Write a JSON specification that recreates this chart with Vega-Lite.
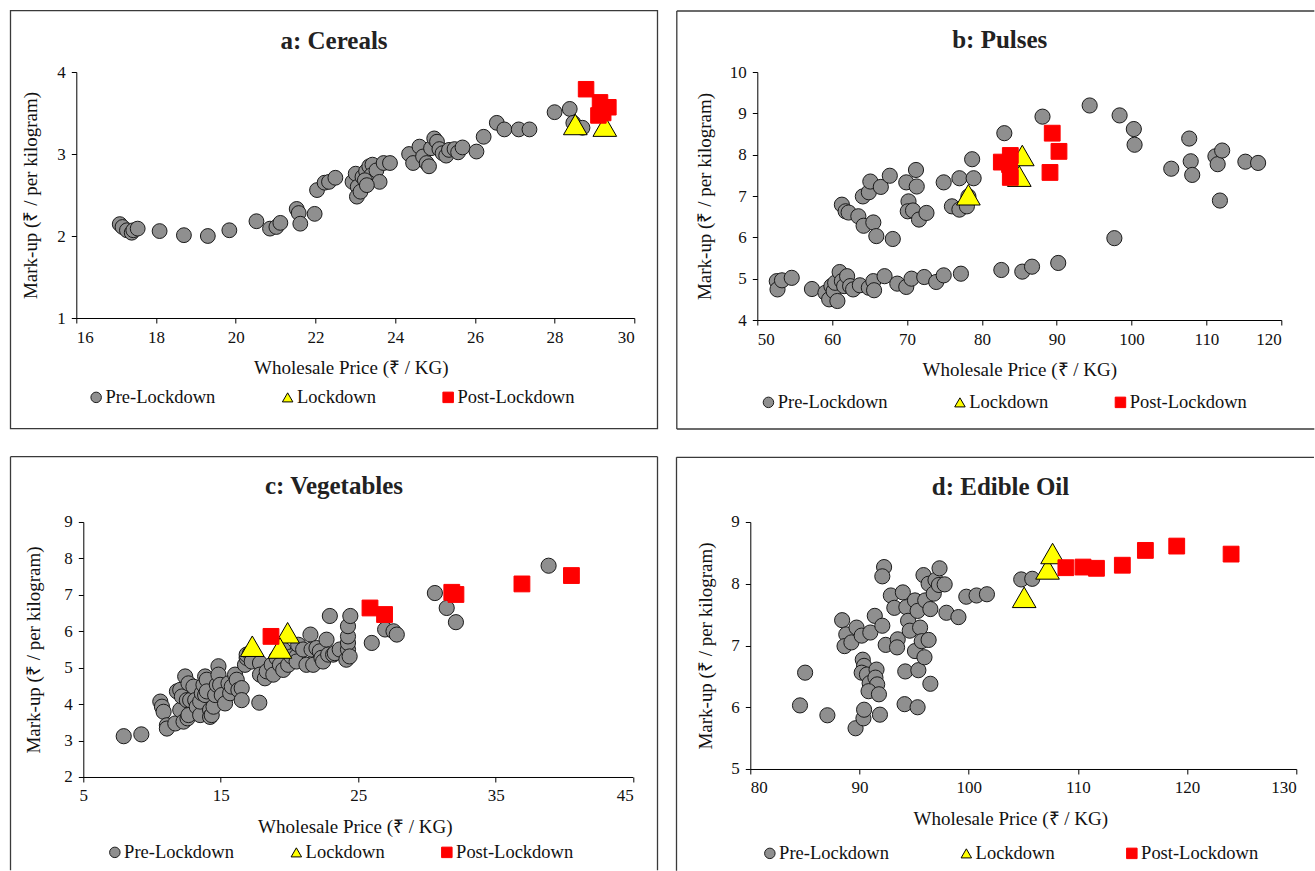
{
"$schema": "https://vega.github.io/schema/vega-lite/v6.json",
"background": "white",
"padding": {"left": 9.3, "top": 10, "right": 0, "bottom": 0},
"config": {
  "view": {"stroke": null},
  "axis": {"domainColor": "#000", "tickColor": "#000", "domainWidth": 1, "tickWidth": 1, "labelFont": "Liberation Serif", "labelFontSize": 17, "labelColor": "#111", "titleFont": "Liberation Serif", "titleFontSize": 19, "titleFontWeight": "normal", "titleColor": "#111", "grid": false, "tickSize": 5, "labelPadding": 6},
  "axisX": {"titlePadding": 13.5},
  "legend": {"labelFont": "Liberation Serif", "labelFontSize": 18.5, "labelColor": "#111", "symbolSize": 110, "symbolStrokeWidth": 1, "labelOffset": 0, "padding": 0}
},
"spacing": 26,
"vconcat": [
{"spacing": 17, "hconcat": [
{
  "width": 558, "height": 246,
  "layer": [
    {"data": {"values": [{}]}, "mark": {"type": "rect", "filled": false, "stroke": "#3a3a3a", "strokeWidth": 1.3, "clip": false},
     "encoding": {"x": {"datum": 14.349, "type": "quantitative", "scale": {"domain": [16, 30], "nice": false, "zero": false}, "axis": {"values": [16,18,20,22,24,26,28,30], "title": "Wholesale Price (₹ / KG)", "titleX": 274.5}}, "x2": {"datum": 30.582},
                  "y": {"datum": 4.748, "type": "quantitative", "scale": {"domain": [1, 4], "nice": false, "zero": false}, "axis": {"values": [1,2,3,4], "title": "Mark-up (₹ / per kilogram)", "titlePadding": 16.5}}, "y2": {"datum": -0.35}}},
    {"data": {"values": [{}]}, "mark": {"type": "text", "font": "Liberation Serif", "fontWeight": "bold", "fontSize": 25, "align": "center", "baseline": "alphabetic", "color": "#222", "clip": false},
     "encoding": {"x": {"datum": 22.466, "type": "quantitative", "scale": {"domain": [16, 30], "nice": false, "zero": false}, "axis": {"values": [16,18,20,22,24,26,28,30], "title": "Wholesale Price (₹ / KG)", "titleX": 274.5}},
                  "y": {"datum": 4.28, "type": "quantitative", "scale": {"domain": [1, 4], "nice": false, "zero": false}, "axis": {"values": [1,2,3,4], "title": "Mark-up (₹ / per kilogram)", "titlePadding": 16.5}},
                  "text": {"value": "a: Cereals"}}},
    {"data": {"values": [
      {"x":17.09,"y":2.145,"p":"Pre-Lockdown"},{"x":17.16,"y":2.11,"p":"Pre-Lockdown"},{"x":17.27,"y":2.07,"p":"Pre-Lockdown"},{"x":17.39,"y":2.04,"p":"Pre-Lockdown"},{"x":17.43,"y":2.07,"p":"Pre-Lockdown"},{"x":17.54,"y":2.09,"p":"Pre-Lockdown"},{"x":18.09,"y":2.06,"p":"Pre-Lockdown"},{"x":18.7,"y":2.01,"p":"Pre-Lockdown"},{"x":19.3,"y":2.0,"p":"Pre-Lockdown"},{"x":19.84,"y":2.07,"p":"Pre-Lockdown"},
      {"x":20.52,"y":2.18,"p":"Pre-Lockdown"},{"x":20.86,"y":2.09,"p":"Pre-Lockdown"},{"x":21.02,"y":2.11,"p":"Pre-Lockdown"},{"x":21.12,"y":2.16,"p":"Pre-Lockdown"},{"x":21.53,"y":2.33,"p":"Pre-Lockdown"},{"x":21.58,"y":2.28,"p":"Pre-Lockdown"},{"x":21.62,"y":2.15,"p":"Pre-Lockdown"},{"x":21.98,"y":2.27,"p":"Pre-Lockdown"},{"x":22.04,"y":2.56,"p":"Pre-Lockdown"},{"x":22.23,"y":2.65,"p":"Pre-Lockdown"},
      {"x":22.34,"y":2.66,"p":"Pre-Lockdown"},{"x":22.5,"y":2.71,"p":"Pre-Lockdown"},{"x":22.93,"y":2.66,"p":"Pre-Lockdown"},{"x":23.01,"y":2.76,"p":"Pre-Lockdown"},{"x":23.06,"y":2.6,"p":"Pre-Lockdown"},{"x":23.04,"y":2.48,"p":"Pre-Lockdown"},{"x":23.13,"y":2.54,"p":"Pre-Lockdown"},{"x":23.18,"y":2.72,"p":"Pre-Lockdown"},{"x":23.27,"y":2.79,"p":"Pre-Lockdown"},{"x":23.35,"y":2.85,"p":"Pre-Lockdown"},
      {"x":23.43,"y":2.87,"p":"Pre-Lockdown"},{"x":23.4,"y":2.74,"p":"Pre-Lockdown"},{"x":23.53,"y":2.8,"p":"Pre-Lockdown"},{"x":23.61,"y":2.66,"p":"Pre-Lockdown"},{"x":23.24,"y":2.68,"p":"Pre-Lockdown"},{"x":23.29,"y":2.62,"p":"Pre-Lockdown"},{"x":23.71,"y":2.89,"p":"Pre-Lockdown"},{"x":23.87,"y":2.89,"p":"Pre-Lockdown"},{"x":24.35,"y":3.0,"p":"Pre-Lockdown"},{"x":24.45,"y":2.89,"p":"Pre-Lockdown"},
      {"x":24.61,"y":3.09,"p":"Pre-Lockdown"},{"x":24.7,"y":2.97,"p":"Pre-Lockdown"},{"x":24.79,"y":2.89,"p":"Pre-Lockdown"},{"x":24.85,"y":2.85,"p":"Pre-Lockdown"},{"x":24.9,"y":3.07,"p":"Pre-Lockdown"},{"x":24.98,"y":3.19,"p":"Pre-Lockdown"},{"x":25.05,"y":3.15,"p":"Pre-Lockdown"},{"x":25.11,"y":3.06,"p":"Pre-Lockdown"},{"x":25.19,"y":3.01,"p":"Pre-Lockdown"},{"x":25.28,"y":2.98,"p":"Pre-Lockdown"},
      {"x":25.35,"y":3.05,"p":"Pre-Lockdown"},{"x":25.49,"y":3.06,"p":"Pre-Lockdown"},{"x":25.58,"y":3.02,"p":"Pre-Lockdown"},{"x":25.69,"y":3.08,"p":"Pre-Lockdown"},{"x":26.04,"y":3.03,"p":"Pre-Lockdown"},{"x":26.22,"y":3.21,"p":"Pre-Lockdown"},{"x":26.55,"y":3.38,"p":"Pre-Lockdown"},{"x":26.74,"y":3.3,"p":"Pre-Lockdown"},{"x":27.1,"y":3.3,"p":"Pre-Lockdown"},{"x":27.37,"y":3.3,"p":"Pre-Lockdown"},
      {"x":28.0,"y":3.51,"p":"Pre-Lockdown"},{"x":28.38,"y":3.55,"p":"Pre-Lockdown"},{"x":28.47,"y":3.38,"p":"Pre-Lockdown"},{"x":28.7,"y":3.32,"p":"Pre-Lockdown"},
      {"x":28.52,"y":3.36,"p":"Lockdown"},{"x":29.26,"y":3.34,"p":"Lockdown"},
      {"x":28.79,"y":3.79,"p":"Post-Lockdown"},{"x":29.14,"y":3.63,"p":"Post-Lockdown"},{"x":29.35,"y":3.57,"p":"Post-Lockdown"},{"x":29.1,"y":3.47,"p":"Post-Lockdown"},{"x":29.22,"y":3.5,"p":"Post-Lockdown"}
     ]},
     "mark": {"type": "point", "filled": true, "opacity": 1, "strokeWidth": 1},
     "encoding": {
       "x": {"field": "x", "type": "quantitative", "scale": {"domain": [16, 30], "nice": false, "zero": false}, "axis": {"values": [16,18,20,22,24,26,28,30], "title": "Wholesale Price (₹ / KG)", "titleX": 274.5}},
       "y": {"field": "y", "type": "quantitative", "scale": {"domain": [1, 4], "nice": false, "zero": false}, "axis": {"values": [1,2,3,4], "title": "Mark-up (₹ / per kilogram)", "titlePadding": 16.5}},
       "fill": {"field": "p", "type": "nominal", "scale": {"domain": ["Pre-Lockdown","Lockdown","Post-Lockdown"], "range": ["#8f8f8f","#ffff00","#ff0000"]}, "legend": {"title": null, "orient": "none", "direction": "horizontal", "legendX": 10.6, "legendY": 316, "columnPadding": 62.5}},
       "shape": {"field": "p", "type": "nominal", "scale": {"domain": ["Pre-Lockdown","Lockdown","Post-Lockdown"], "range": ["circle","triangle-up","square"]}, "legend": {"title": null, "orient": "none", "direction": "horizontal", "legendX": 10.6, "legendY": 316, "columnPadding": 62.5}},
       "stroke": {"field": "p", "type": "nominal", "scale": {"domain": ["Pre-Lockdown","Lockdown","Post-Lockdown"], "range": ["#1a1a1a","#000000","#ff0000"]}, "legend": {"title": null, "orient": "none", "direction": "horizontal", "legendX": 10.6, "legendY": 316, "columnPadding": 62.5}},
       "size": {"field": "p", "type": "nominal", "scale": {"type": "ordinal", "domain": ["Post-Lockdown","Lockdown","Pre-Lockdown"], "range": [240, 560, 220]}, "legend": null}
     }}
  ]
},
{
  "width": 524, "height": 248,
  "layer": [
    {"data": {"values": [{}]}, "mark": {"type": "rule", "stroke": "#3a3a3a", "strokeWidth": 1.3, "clip": false},
     "encoding": {"x": {"datum": 39.247, "type": "quantitative", "scale": {"domain": [50, 120], "nice": false, "zero": false}, "axis": {"values": [50,60,70,80,90,100,110,120], "title": "Wholesale Price (₹ / KG)"}}, "x2": {"datum": 124.41},
                  "y": {"datum": 11.476, "type": "quantitative", "scale": {"domain": [4, 10], "nice": false, "zero": false}, "axis": {"values": [4,5,6,7,8,9,10], "title": "Mark-up (₹ / per kilogram)", "titlePadding": 14.5}}}},
    {"data": {"values": [{}]}, "mark": {"type": "rule", "stroke": "#3a3a3a", "strokeWidth": 1.3, "clip": false},
     "encoding": {"x": {"datum": 39.247, "type": "quantitative", "scale": {"domain": [50, 120], "nice": false, "zero": false}, "axis": {"values": [50,60,70,80,90,100,110,120], "title": "Wholesale Price (₹ / KG)"}}, "x2": {"datum": 124.41},
                  "y": {"datum": 1.363, "type": "quantitative", "scale": {"domain": [4, 10], "nice": false, "zero": false}, "axis": {"values": [4,5,6,7,8,9,10], "title": "Mark-up (₹ / per kilogram)", "titlePadding": 14.5}}}},
    {"data": {"values": [{}]}, "mark": {"type": "rule", "stroke": "#3a3a3a", "strokeWidth": 1.3, "clip": false},
     "encoding": {"x": {"datum": 39.247, "type": "quantitative", "scale": {"domain": [50, 120], "nice": false, "zero": false}, "axis": {"values": [50,60,70,80,90,100,110,120], "title": "Wholesale Price (₹ / KG)"}},
                  "y": {"datum": 11.476, "type": "quantitative", "scale": {"domain": [4, 10], "nice": false, "zero": false}, "axis": {"values": [4,5,6,7,8,9,10], "title": "Mark-up (₹ / per kilogram)", "titlePadding": 14.5}}, "y2": {"datum": 1.363}}},
    {"data": {"values": [{}]}, "mark": {"type": "text", "font": "Liberation Serif", "fontWeight": "bold", "fontSize": 25, "align": "center", "baseline": "alphabetic", "color": "#222", "clip": false},
     "encoding": {"x": {"datum": 82.39, "type": "quantitative", "scale": {"domain": [50, 120], "nice": false, "zero": false}, "axis": {"values": [50,60,70,80,90,100,110,120], "title": "Wholesale Price (₹ / KG)"}},
                  "y": {"datum": 10.573, "type": "quantitative", "scale": {"domain": [4, 10], "nice": false, "zero": false}, "axis": {"values": [4,5,6,7,8,9,10], "title": "Mark-up (₹ / per kilogram)", "titlePadding": 14.5}},
                  "text": {"value": "b: Pulses"}}},
    {"data": {"values": [
      {"x":52.6,"y":4.94,"p":"Pre-Lockdown"},{"x":52.7,"y":4.74,"p":"Pre-Lockdown"},{"x":53.3,"y":4.96,"p":"Pre-Lockdown"},{"x":54.6,"y":5.02,"p":"Pre-Lockdown"},{"x":57.3,"y":4.75,"p":"Pre-Lockdown"},{"x":59.1,"y":4.66,"p":"Pre-Lockdown"},{"x":59.6,"y":4.5,"p":"Pre-Lockdown"},{"x":59.9,"y":4.82,"p":"Pre-Lockdown"},{"x":60.2,"y":4.7,"p":"Pre-Lockdown"},{"x":60.4,"y":4.9,"p":"Pre-Lockdown"},
      {"x":60.7,"y":4.46,"p":"Pre-Lockdown"},{"x":61.0,"y":5.16,"p":"Pre-Lockdown"},{"x":61.3,"y":4.94,"p":"Pre-Lockdown"},{"x":61.6,"y":4.82,"p":"Pre-Lockdown"},{"x":62.0,"y":5.06,"p":"Pre-Lockdown"},{"x":62.4,"y":4.82,"p":"Pre-Lockdown"},{"x":62.8,"y":4.74,"p":"Pre-Lockdown"},{"x":63.7,"y":4.84,"p":"Pre-Lockdown"},{"x":64.9,"y":4.78,"p":"Pre-Lockdown"},{"x":65.5,"y":4.94,"p":"Pre-Lockdown"},
      {"x":65.6,"y":4.72,"p":"Pre-Lockdown"},{"x":67.0,"y":5.06,"p":"Pre-Lockdown"},{"x":68.7,"y":4.88,"p":"Pre-Lockdown"},{"x":69.9,"y":4.8,"p":"Pre-Lockdown"},{"x":70.6,"y":5.0,"p":"Pre-Lockdown"},{"x":72.3,"y":5.04,"p":"Pre-Lockdown"},{"x":73.9,"y":4.92,"p":"Pre-Lockdown"},{"x":74.9,"y":5.08,"p":"Pre-Lockdown"},{"x":77.2,"y":5.12,"p":"Pre-Lockdown"},{"x":82.6,"y":5.21,"p":"Pre-Lockdown"},
      {"x":85.4,"y":5.17,"p":"Pre-Lockdown"},{"x":86.7,"y":5.29,"p":"Pre-Lockdown"},{"x":90.2,"y":5.38,"p":"Pre-Lockdown"},{"x":97.7,"y":5.98,"p":"Pre-Lockdown"},
      {"x":61.3,"y":6.79,"p":"Pre-Lockdown"},{"x":61.8,"y":6.63,"p":"Pre-Lockdown"},{"x":62.2,"y":6.6,"p":"Pre-Lockdown"},{"x":63.5,"y":6.51,"p":"Pre-Lockdown"},{"x":64.2,"y":6.28,"p":"Pre-Lockdown"},{"x":64.1,"y":6.99,"p":"Pre-Lockdown"},{"x":64.9,"y":7.09,"p":"Pre-Lockdown"},{"x":65.1,"y":7.35,"p":"Pre-Lockdown"},{"x":65.5,"y":6.36,"p":"Pre-Lockdown"},{"x":65.9,"y":6.03,"p":"Pre-Lockdown"},
      {"x":66.5,"y":7.22,"p":"Pre-Lockdown"},{"x":67.7,"y":7.49,"p":"Pre-Lockdown"},{"x":68.1,"y":5.96,"p":"Pre-Lockdown"},{"x":69.9,"y":7.33,"p":"Pre-Lockdown"},{"x":70.2,"y":6.87,"p":"Pre-Lockdown"},{"x":70.1,"y":6.63,"p":"Pre-Lockdown"},{"x":70.8,"y":6.65,"p":"Pre-Lockdown"},{"x":71.2,"y":7.63,"p":"Pre-Lockdown"},{"x":71.3,"y":7.23,"p":"Pre-Lockdown"},{"x":71.6,"y":6.43,"p":"Pre-Lockdown"},
      {"x":72.6,"y":6.59,"p":"Pre-Lockdown"},{"x":74.9,"y":7.33,"p":"Pre-Lockdown"},{"x":76.0,"y":6.75,"p":"Pre-Lockdown"},{"x":77.0,"y":7.43,"p":"Pre-Lockdown"},{"x":77.0,"y":6.67,"p":"Pre-Lockdown"},{"x":78.0,"y":6.75,"p":"Pre-Lockdown"},{"x":78.2,"y":6.99,"p":"Pre-Lockdown"},{"x":78.9,"y":7.43,"p":"Pre-Lockdown"},{"x":78.7,"y":7.89,"p":"Pre-Lockdown"},{"x":83.0,"y":8.52,"p":"Pre-Lockdown"},
      {"x":88.1,"y":8.92,"p":"Pre-Lockdown"},{"x":94.4,"y":9.19,"p":"Pre-Lockdown"},{"x":98.4,"y":8.95,"p":"Pre-Lockdown"},{"x":100.3,"y":8.62,"p":"Pre-Lockdown"},{"x":100.4,"y":8.24,"p":"Pre-Lockdown"},{"x":105.3,"y":7.66,"p":"Pre-Lockdown"},{"x":107.7,"y":8.39,"p":"Pre-Lockdown"},{"x":107.9,"y":7.84,"p":"Pre-Lockdown"},{"x":108.1,"y":7.51,"p":"Pre-Lockdown"},{"x":111.2,"y":7.96,"p":"Pre-Lockdown"},
      {"x":111.5,"y":7.77,"p":"Pre-Lockdown"},{"x":112.1,"y":8.1,"p":"Pre-Lockdown"},{"x":111.8,"y":6.89,"p":"Pre-Lockdown"},{"x":115.2,"y":7.83,"p":"Pre-Lockdown"},{"x":116.9,"y":7.8,"p":"Pre-Lockdown"},
      {"x":78.2,"y":7.03,"p":"Lockdown"},{"x":85.4,"y":7.98,"p":"Lockdown"},{"x":85.0,"y":7.48,"p":"Lockdown"},
      {"x":82.6,"y":7.82,"p":"Post-Lockdown"},{"x":83.8,"y":7.98,"p":"Post-Lockdown"},{"x":83.7,"y":7.76,"p":"Post-Lockdown"},{"x":83.8,"y":7.45,"p":"Post-Lockdown"},{"x":89.4,"y":8.52,"p":"Post-Lockdown"},{"x":90.3,"y":8.08,"p":"Post-Lockdown"},{"x":89.1,"y":7.57,"p":"Post-Lockdown"}
     ]},
     "mark": {"type": "point", "filled": true, "opacity": 1, "strokeWidth": 1},
     "encoding": {
       "x": {"field": "x", "type": "quantitative", "scale": {"domain": [50, 120], "nice": false, "zero": false}, "axis": {"values": [50,60,70,80,90,100,110,120], "title": "Wholesale Price (₹ / KG)"}},
       "y": {"field": "y", "type": "quantitative", "scale": {"domain": [4, 10], "nice": false, "zero": false}, "axis": {"values": [4,5,6,7,8,9,10], "title": "Mark-up (₹ / per kilogram)", "titlePadding": 14.5}},
       "fill": {"field": "p", "type": "nominal", "scale": {"domain": ["Pre-Lockdown","Lockdown","Post-Lockdown"], "range": ["#8f8f8f","#ffff00","#ff0000"]}, "legend": {"title": null, "orient": "none", "direction": "horizontal", "legendX": 1.9, "legendY": 321, "columnPadding": 62.5}},
       "shape": {"field": "p", "type": "nominal", "scale": {"domain": ["Pre-Lockdown","Lockdown","Post-Lockdown"], "range": ["circle","triangle-up","square"]}, "legend": {"title": null, "orient": "none", "direction": "horizontal", "legendX": 1.9, "legendY": 321, "columnPadding": 62.5}},
       "stroke": {"field": "p", "type": "nominal", "scale": {"domain": ["Pre-Lockdown","Lockdown","Post-Lockdown"], "range": ["#1a1a1a","#000000","#ff0000"]}, "legend": {"title": null, "orient": "none", "direction": "horizontal", "legendX": 1.9, "legendY": 321, "columnPadding": 62.5}},
       "size": {"field": "p", "type": "nominal", "scale": {"type": "ordinal", "domain": ["Post-Lockdown","Lockdown","Pre-Lockdown"], "range": [250, 560, 230]}, "legend": null}
     }}
  ]
}
],
"resolve": {"scale": {"fill": "independent", "shape": "independent", "stroke": "independent", "size": "independent"}, "legend": {"fill": "independent", "shape": "independent", "stroke": "independent"}}
},
{"spacing": 17, "hconcat": [
{
  "width": 557, "height": 255,
  "layer": [
    {"data": {"values": [{}]}, "mark": {"type": "rule", "stroke": "#3a3a3a", "strokeWidth": 1.3, "clip": false},
     "encoding": {"x": {"datum": -0.294, "type": "quantitative", "scale": {"domain": [4.491, 45], "nice": false, "zero": false}, "axis": {"values": [5,15,25,35,45], "title": "Wholesale Price (₹ / KG)", "domain": false}}, "x2": {"datum": 46.76},
                  "y": {"datum": 10.792, "type": "quantitative", "scale": {"domain": [2, 9], "nice": false, "zero": false}, "axis": {"values": [2,3,4,5,6,7,8,9], "title": "Mark-up (₹ / per kilogram)", "titlePadding": 20, "offset": -7}}}},
    {"data": {"values": [{}]}, "mark": {"type": "rule", "stroke": "#3a3a3a", "strokeWidth": 1.3, "clip": false},
     "encoding": {"x": {"datum": -0.294, "type": "quantitative", "scale": {"domain": [4.491, 45], "nice": false, "zero": false}, "axis": {"values": [5,15,25,35,45], "title": "Wholesale Price (₹ / KG)", "domain": false}},
                  "y": {"datum": 10.792, "type": "quantitative", "scale": {"domain": [2, 9], "nice": false, "zero": false}, "axis": {"values": [2,3,4,5,6,7,8,9], "title": "Mark-up (₹ / per kilogram)", "titlePadding": 20, "offset": -7}}, "y2": {"datum": -0.558}}},
    {"data": {"values": [{}]}, "mark": {"type": "rule", "stroke": "#3a3a3a", "strokeWidth": 1.3, "clip": false},
     "encoding": {"x": {"datum": 46.76, "type": "quantitative", "scale": {"domain": [4.491, 45], "nice": false, "zero": false}, "axis": {"values": [5,15,25,35,45], "title": "Wholesale Price (₹ / KG)", "domain": false}},
                  "y": {"datum": 10.792, "type": "quantitative", "scale": {"domain": [2, 9], "nice": false, "zero": false}, "axis": {"values": [2,3,4,5,6,7,8,9], "title": "Mark-up (₹ / per kilogram)", "titlePadding": 20, "offset": -7}}, "y2": {"datum": -0.558}}},
    {"data": {"values": [{}]}, "mark": {"type": "rule", "stroke": "#000000", "strokeWidth": 1, "clip": false},
     "encoding": {"x": {"datum": 5, "type": "quantitative", "scale": {"domain": [4.491, 45], "nice": false, "zero": false}, "axis": {"values": [5,15,25,35,45], "title": "Wholesale Price (₹ / KG)", "domain": false}}, "x2": {"datum": 45},
                  "y": {"datum": 1.9863, "type": "quantitative", "scale": {"domain": [2, 9], "nice": false, "zero": false}, "axis": {"values": [2,3,4,5,6,7,8,9], "title": "Mark-up (₹ / per kilogram)", "titlePadding": 20, "offset": -7}}}},
    {"data": {"values": [{}]}, "mark": {"type": "text", "font": "Liberation Serif", "fontWeight": "bold", "fontSize": 25, "align": "center", "baseline": "alphabetic", "color": "#222", "clip": false},
     "encoding": {"x": {"datum": 23.233, "type": "quantitative", "scale": {"domain": [4.491, 45], "nice": false, "zero": false}, "axis": {"values": [5,15,25,35,45], "title": "Wholesale Price (₹ / KG)", "domain": false}},
                  "y": {"datum": 9.769, "type": "quantitative", "scale": {"domain": [2, 9], "nice": false, "zero": false}, "axis": {"values": [2,3,4,5,6,7,8,9], "title": "Mark-up (₹ / per kilogram)", "titlePadding": 20, "offset": -7}},
                  "text": {"value": "c: Vegetables"}}},
    {"data": {"values": [
      {"x":7.94,"y":3.12,"p":"Pre-Lockdown"},{"x":9.22,"y":3.17,"p":"Pre-Lockdown"},{"x":10.6,"y":4.07,"p":"Pre-Lockdown"},{"x":10.72,"y":3.93,"p":"Pre-Lockdown"},{"x":10.84,"y":3.79,"p":"Pre-Lockdown"},{"x":11.08,"y":3.42,"p":"Pre-Lockdown"},{"x":11.08,"y":3.33,"p":"Pre-Lockdown"},{"x":11.69,"y":3.47,"p":"Pre-Lockdown"},{"x":11.81,"y":4.35,"p":"Pre-Lockdown"},{"x":12.05,"y":4.39,"p":"Pre-Lockdown"},
      {"x":12.05,"y":3.84,"p":"Pre-Lockdown"},{"x":12.17,"y":4.21,"p":"Pre-Lockdown"},{"x":12.29,"y":3.52,"p":"Pre-Lockdown"},{"x":12.41,"y":4.76,"p":"Pre-Lockdown"},{"x":12.53,"y":4.11,"p":"Pre-Lockdown"},{"x":12.58,"y":3.61,"p":"Pre-Lockdown"},{"x":12.65,"y":4.57,"p":"Pre-Lockdown"},{"x":12.65,"y":3.7,"p":"Pre-Lockdown"},{"x":12.77,"y":4.11,"p":"Pre-Lockdown"},{"x":13.01,"y":4.48,"p":"Pre-Lockdown"},
      {"x":13.14,"y":4.11,"p":"Pre-Lockdown"},{"x":13.25,"y":3.93,"p":"Pre-Lockdown"},{"x":13.5,"y":3.7,"p":"Pre-Lockdown"},{"x":13.5,"y":4.07,"p":"Pre-Lockdown"},{"x":13.62,"y":4.3,"p":"Pre-Lockdown"},{"x":13.74,"y":4.53,"p":"Pre-Lockdown"},{"x":13.86,"y":4.76,"p":"Pre-Lockdown"},{"x":13.86,"y":4.25,"p":"Pre-Lockdown"},{"x":13.98,"y":4.67,"p":"Pre-Lockdown"},{"x":13.98,"y":4.35,"p":"Pre-Lockdown"},
      {"x":14.22,"y":3.84,"p":"Pre-Lockdown"},{"x":14.22,"y":3.65,"p":"Pre-Lockdown"},{"x":14.34,"y":3.7,"p":"Pre-Lockdown"},{"x":14.47,"y":3.93,"p":"Pre-Lockdown"},{"x":14.59,"y":4.25,"p":"Pre-Lockdown"},{"x":14.71,"y":4.53,"p":"Pre-Lockdown"},{"x":14.83,"y":5.04,"p":"Pre-Lockdown"},{"x":14.83,"y":4.81,"p":"Pre-Lockdown"},{"x":14.95,"y":4.53,"p":"Pre-Lockdown"},{"x":15.07,"y":4.25,"p":"Pre-Lockdown"},
      {"x":15.31,"y":4.02,"p":"Pre-Lockdown"},{"x":15.56,"y":4.57,"p":"Pre-Lockdown"},{"x":15.68,"y":4.3,"p":"Pre-Lockdown"},{"x":15.8,"y":4.48,"p":"Pre-Lockdown"},{"x":16.04,"y":4.81,"p":"Pre-Lockdown"},{"x":16.16,"y":4.67,"p":"Pre-Lockdown"},{"x":16.28,"y":4.39,"p":"Pre-Lockdown"},{"x":16.52,"y":4.44,"p":"Pre-Lockdown"},{"x":16.52,"y":4.11,"p":"Pre-Lockdown"},{"x":16.76,"y":5.08,"p":"Pre-Lockdown"},
      {"x":16.88,"y":5.27,"p":"Pre-Lockdown"},{"x":16.88,"y":5.36,"p":"Pre-Lockdown"},{"x":17.13,"y":5.4,"p":"Pre-Lockdown"},{"x":17.25,"y":5.17,"p":"Pre-Lockdown"},{"x":17.8,"y":4.04,"p":"Pre-Lockdown"},{"x":17.85,"y":5.13,"p":"Pre-Lockdown"},{"x":17.85,"y":4.81,"p":"Pre-Lockdown"},{"x":18.21,"y":4.71,"p":"Pre-Lockdown"},{"x":18.34,"y":4.9,"p":"Pre-Lockdown"},{"x":18.7,"y":5.08,"p":"Pre-Lockdown"},
      {"x":18.82,"y":4.81,"p":"Pre-Lockdown"},{"x":19.06,"y":5.27,"p":"Pre-Lockdown"},{"x":19.3,"y":5.08,"p":"Pre-Lockdown"},{"x":19.54,"y":4.94,"p":"Pre-Lockdown"},{"x":19.54,"y":5.5,"p":"Pre-Lockdown"},{"x":19.9,"y":5.08,"p":"Pre-Lockdown"},{"x":20.14,"y":5.31,"p":"Pre-Lockdown"},{"x":20.51,"y":5.31,"p":"Pre-Lockdown"},{"x":20.63,"y":5.63,"p":"Pre-Lockdown"},{"x":20.51,"y":5.17,"p":"Pre-Lockdown"},
      {"x":20.99,"y":5.5,"p":"Pre-Lockdown"},{"x":21.23,"y":5.08,"p":"Pre-Lockdown"},{"x":21.52,"y":5.91,"p":"Pre-Lockdown"},{"x":21.6,"y":5.5,"p":"Pre-Lockdown"},{"x":21.72,"y":5.08,"p":"Pre-Lockdown"},{"x":21.96,"y":5.54,"p":"Pre-Lockdown"},{"x":22.2,"y":5.45,"p":"Pre-Lockdown"},{"x":22.32,"y":5.27,"p":"Pre-Lockdown"},{"x":22.44,"y":5.17,"p":"Pre-Lockdown"},{"x":22.69,"y":5.77,"p":"Pre-Lockdown"},
      {"x":22.81,"y":5.36,"p":"Pre-Lockdown"},{"x":22.93,"y":6.42,"p":"Pre-Lockdown"},{"x":23.17,"y":5.36,"p":"Pre-Lockdown"},{"x":23.29,"y":5.4,"p":"Pre-Lockdown"},{"x":23.65,"y":5.5,"p":"Pre-Lockdown"},{"x":24.13,"y":5.22,"p":"Pre-Lockdown"},{"x":24.25,"y":5.5,"p":"Pre-Lockdown"},{"x":24.25,"y":5.68,"p":"Pre-Lockdown"},{"x":24.25,"y":5.86,"p":"Pre-Lockdown"},{"x":24.25,"y":6.14,"p":"Pre-Lockdown"},
      {"x":24.37,"y":5.31,"p":"Pre-Lockdown"},{"x":24.42,"y":6.42,"p":"Pre-Lockdown"},{"x":25.98,"y":5.68,"p":"Pre-Lockdown"},{"x":26.95,"y":6.05,"p":"Pre-Lockdown"},{"x":27.56,"y":6.0,"p":"Pre-Lockdown"},{"x":27.8,"y":5.91,"p":"Pre-Lockdown"},{"x":30.57,"y":7.05,"p":"Pre-Lockdown"},{"x":31.43,"y":6.64,"p":"Pre-Lockdown"},{"x":32.1,"y":6.25,"p":"Pre-Lockdown"},{"x":38.84,"y":7.8,"p":"Pre-Lockdown"},
      {"x":17.29,"y":5.59,"p":"Lockdown"},{"x":19.86,"y":5.96,"p":"Lockdown"},{"x":19.3,"y":5.54,"p":"Lockdown"},
      {"x":18.65,"y":5.86,"p":"Post-Lockdown"},{"x":25.85,"y":6.64,"p":"Post-Lockdown"},{"x":26.91,"y":6.46,"p":"Post-Lockdown"},{"x":31.8,"y":7.07,"p":"Post-Lockdown"},{"x":32.1,"y":7.01,"p":"Post-Lockdown"},{"x":36.9,"y":7.3,"p":"Post-Lockdown"},{"x":40.5,"y":7.53,"p":"Post-Lockdown"}
     ]},
     "mark": {"type": "point", "filled": true, "opacity": 1, "strokeWidth": 1},
     "encoding": {
       "x": {"field": "x", "type": "quantitative", "scale": {"domain": [4.491, 45], "nice": false, "zero": false}, "axis": {"values": [5,15,25,35,45], "title": "Wholesale Price (₹ / KG)", "domain": false}},
       "y": {"field": "y", "type": "quantitative", "scale": {"domain": [2, 9], "nice": false, "zero": false}, "axis": {"values": [2,3,4,5,6,7,8,9], "title": "Mark-up (₹ / per kilogram)", "titlePadding": 20, "offset": -7}},
       "fill": {"field": "p", "type": "nominal", "scale": {"domain": ["Pre-Lockdown","Lockdown","Post-Lockdown"], "range": ["#8f8f8f","#ffff00","#ff0000"]}, "legend": {"title": null, "orient": "none", "direction": "horizontal", "legendX": 29.3, "legendY": 321, "columnPadding": 52.5}},
       "shape": {"field": "p", "type": "nominal", "scale": {"domain": ["Pre-Lockdown","Lockdown","Post-Lockdown"], "range": ["circle","triangle-up","square"]}, "legend": {"title": null, "orient": "none", "direction": "horizontal", "legendX": 29.3, "legendY": 321, "columnPadding": 52.5}},
       "stroke": {"field": "p", "type": "nominal", "scale": {"domain": ["Pre-Lockdown","Lockdown","Post-Lockdown"], "range": ["#1a1a1a","#000000","#ff0000"]}, "legend": {"title": null, "orient": "none", "direction": "horizontal", "legendX": 29.3, "legendY": 321, "columnPadding": 52.5}},
       "size": {"field": "p", "type": "nominal", "scale": {"type": "ordinal", "domain": ["Post-Lockdown","Lockdown","Pre-Lockdown"], "range": [250, 560, 230]}, "legend": null}
     }}
  ]
},
{
  "width": 546, "height": 247,
  "layer": [
    {"data": {"values": [{}]}, "mark": {"type": "rule", "stroke": "#3a3a3a", "strokeWidth": 1.3, "clip": false},
     "encoding": {"x": {"datum": 73.242, "type": "quantitative", "scale": {"domain": [80, 130], "nice": false, "zero": false}, "axis": {"values": [80,90,100,110,120,130], "title": "Wholesale Price (₹ / KG)", "titleX": 260}}, "x2": {"datum": 131.62},
                  "y": {"datum": 10.048, "type": "quantitative", "scale": {"domain": [5, 9], "nice": false, "zero": false}, "axis": {"values": [5,6,7,8,9], "title": "Mark-up (₹ / per kilogram)", "titlePadding": 15}}}},
    {"data": {"values": [{}]}, "mark": {"type": "rule", "stroke": "#3a3a3a", "strokeWidth": 1.3, "clip": false},
     "encoding": {"x": {"datum": 73.242, "type": "quantitative", "scale": {"domain": [80, 130], "nice": false, "zero": false}, "axis": {"values": [80,90,100,110,120,130], "title": "Wholesale Price (₹ / KG)", "titleX": 260}},
                  "y": {"datum": 10.048, "type": "quantitative", "scale": {"domain": [5, 9], "nice": false, "zero": false}, "axis": {"values": [5,6,7,8,9], "title": "Mark-up (₹ / per kilogram)", "titlePadding": 15}}, "y2": {"datum": 3.351}}},
    {"data": {"values": [{}]}, "mark": {"type": "text", "font": "Liberation Serif", "fontWeight": "bold", "fontSize": 25, "align": "center", "baseline": "alphabetic", "color": "#222", "clip": false},
     "encoding": {"x": {"datum": 102.91, "type": "quantitative", "scale": {"domain": [80, 130], "nice": false, "zero": false}, "axis": {"values": [80,90,100,110,120,130], "title": "Wholesale Price (₹ / KG)", "titleX": 260}},
                  "y": {"datum": 9.444, "type": "quantitative", "scale": {"domain": [5, 9], "nice": false, "zero": false}, "axis": {"values": [5,6,7,8,9], "title": "Mark-up (₹ / per kilogram)", "titlePadding": 15}},
                  "text": {"value": "d: Edible Oil"}}},
    {"data": {"values": [
      {"x":85.02,"y":6.56,"p":"Pre-Lockdown"},{"x":84.55,"y":6.03,"p":"Pre-Lockdown"},{"x":87.06,"y":5.87,"p":"Pre-Lockdown"},{"x":89.64,"y":5.66,"p":"Pre-Lockdown"},{"x":90.36,"y":5.82,"p":"Pre-Lockdown"},{"x":90.42,"y":5.96,"p":"Pre-Lockdown"},{"x":91.87,"y":5.88,"p":"Pre-Lockdown"},{"x":94.13,"y":6.05,"p":"Pre-Lockdown"},{"x":95.32,"y":6.0,"p":"Pre-Lockdown"},{"x":96.49,"y":6.38,"p":"Pre-Lockdown"},
      {"x":88.41,"y":7.41,"p":"Pre-Lockdown"},{"x":88.79,"y":7.18,"p":"Pre-Lockdown"},{"x":88.63,"y":6.99,"p":"Pre-Lockdown"},{"x":89.26,"y":7.05,"p":"Pre-Lockdown"},{"x":89.73,"y":7.29,"p":"Pre-Lockdown"},{"x":90.2,"y":7.16,"p":"Pre-Lockdown"},{"x":90.99,"y":7.21,"p":"Pre-Lockdown"},{"x":91.4,"y":7.48,"p":"Pre-Lockdown"},{"x":92.09,"y":7.32,"p":"Pre-Lockdown"},{"x":92.4,"y":7.01,"p":"Pre-Lockdown"},
      {"x":90.3,"y":6.77,"p":"Pre-Lockdown"},{"x":90.42,"y":6.67,"p":"Pre-Lockdown"},{"x":90.2,"y":6.56,"p":"Pre-Lockdown"},{"x":90.68,"y":6.53,"p":"Pre-Lockdown"},{"x":90.93,"y":6.39,"p":"Pre-Lockdown"},{"x":91.56,"y":6.61,"p":"Pre-Lockdown"},{"x":91.46,"y":6.48,"p":"Pre-Lockdown"},{"x":91.62,"y":6.37,"p":"Pre-Lockdown"},{"x":90.83,"y":6.26,"p":"Pre-Lockdown"},{"x":91.78,"y":6.21,"p":"Pre-Lockdown"},
      {"x":92.25,"y":8.27,"p":"Pre-Lockdown"},{"x":92.09,"y":8.12,"p":"Pre-Lockdown"},{"x":92.87,"y":7.81,"p":"Pre-Lockdown"},{"x":93.19,"y":7.61,"p":"Pre-Lockdown"},{"x":93.97,"y":7.86,"p":"Pre-Lockdown"},{"x":94.29,"y":7.62,"p":"Pre-Lockdown"},{"x":93.5,"y":7.1,"p":"Pre-Lockdown"},{"x":93.44,"y":6.97,"p":"Pre-Lockdown"},{"x":94.45,"y":7.4,"p":"Pre-Lockdown"},{"x":95.08,"y":7.73,"p":"Pre-Lockdown"},
      {"x":94.6,"y":7.24,"p":"Pre-Lockdown"},{"x":94.19,"y":6.58,"p":"Pre-Lockdown"},{"x":95.08,"y":6.91,"p":"Pre-Lockdown"},{"x":95.39,"y":6.6,"p":"Pre-Lockdown"},{"x":95.55,"y":7.29,"p":"Pre-Lockdown"},{"x":95.7,"y":7.07,"p":"Pre-Lockdown"},{"x":95.95,"y":6.81,"p":"Pre-Lockdown"},{"x":96.33,"y":7.09,"p":"Pre-Lockdown"},{"x":95.32,"y":7.56,"p":"Pre-Lockdown"},{"x":95.86,"y":8.14,"p":"Pre-Lockdown"},
      {"x":96.02,"y":7.73,"p":"Pre-Lockdown"},{"x":96.33,"y":8.0,"p":"Pre-Lockdown"},{"x":96.49,"y":7.59,"p":"Pre-Lockdown"},{"x":96.8,"y":7.84,"p":"Pre-Lockdown"},{"x":96.96,"y":8.06,"p":"Pre-Lockdown"},{"x":97.33,"y":8.25,"p":"Pre-Lockdown"},{"x":97.27,"y":7.98,"p":"Pre-Lockdown"},{"x":97.8,"y":7.99,"p":"Pre-Lockdown"},{"x":97.96,"y":7.53,"p":"Pre-Lockdown"},{"x":99.06,"y":7.46,"p":"Pre-Lockdown"},
      {"x":99.78,"y":7.79,"p":"Pre-Lockdown"},{"x":100.72,"y":7.81,"p":"Pre-Lockdown"},{"x":101.67,"y":7.83,"p":"Pre-Lockdown"},{"x":104.81,"y":8.07,"p":"Pre-Lockdown"},{"x":105.82,"y":8.08,"p":"Pre-Lockdown"},
      {"x":105.08,"y":7.78,"p":"Lockdown"},{"x":107.22,"y":8.24,"p":"Lockdown"},{"x":107.68,"y":8.49,"p":"Lockdown"},
      {"x":108.9,"y":8.26,"p":"Post-Lockdown"},{"x":110.47,"y":8.27,"p":"Post-Lockdown"},{"x":111.7,"y":8.25,"p":"Post-Lockdown"},{"x":114.07,"y":8.3,"p":"Post-Lockdown"},{"x":116.18,"y":8.54,"p":"Post-Lockdown"},{"x":119.05,"y":8.61,"p":"Post-Lockdown"},{"x":124.03,"y":8.48,"p":"Post-Lockdown"}
     ]},
     "mark": {"type": "point", "filled": true, "opacity": 1, "strokeWidth": 1},
     "encoding": {
       "x": {"field": "x", "type": "quantitative", "scale": {"domain": [80, 130], "nice": false, "zero": false}, "axis": {"values": [80,90,100,110,120,130], "title": "Wholesale Price (₹ / KG)", "titleX": 260}},
       "y": {"field": "y", "type": "quantitative", "scale": {"domain": [5, 9], "nice": false, "zero": false}, "axis": {"values": [5,6,7,8,9], "title": "Mark-up (₹ / per kilogram)", "titlePadding": 15}},
       "fill": {"field": "p", "type": "nominal", "scale": {"domain": ["Pre-Lockdown","Lockdown","Post-Lockdown"], "range": ["#8f8f8f","#ffff00","#ff0000"]}, "legend": {"title": null, "orient": "none", "direction": "horizontal", "legendX": 10.3, "legendY": 322, "columnPadding": 67.5}},
       "shape": {"field": "p", "type": "nominal", "scale": {"domain": ["Pre-Lockdown","Lockdown","Post-Lockdown"], "range": ["circle","triangle-up","square"]}, "legend": {"title": null, "orient": "none", "direction": "horizontal", "legendX": 10.3, "legendY": 322, "columnPadding": 67.5}},
       "stroke": {"field": "p", "type": "nominal", "scale": {"domain": ["Pre-Lockdown","Lockdown","Post-Lockdown"], "range": ["#1a1a1a","#000000","#ff0000"]}, "legend": {"title": null, "orient": "none", "direction": "horizontal", "legendX": 10.3, "legendY": 322, "columnPadding": 67.5}},
       "size": {"field": "p", "type": "nominal", "scale": {"type": "ordinal", "domain": ["Post-Lockdown","Lockdown","Pre-Lockdown"], "range": [250, 560, 230]}, "legend": null}
     }}
  ]
}
],
"resolve": {"scale": {"fill": "independent", "shape": "independent", "stroke": "independent", "size": "independent"}, "legend": {"fill": "independent", "shape": "independent", "stroke": "independent"}}
}
],
"resolve": {"scale": {"fill": "independent", "shape": "independent", "stroke": "independent", "size": "independent"}, "legend": {"fill": "independent", "shape": "independent", "stroke": "independent"}}
}
